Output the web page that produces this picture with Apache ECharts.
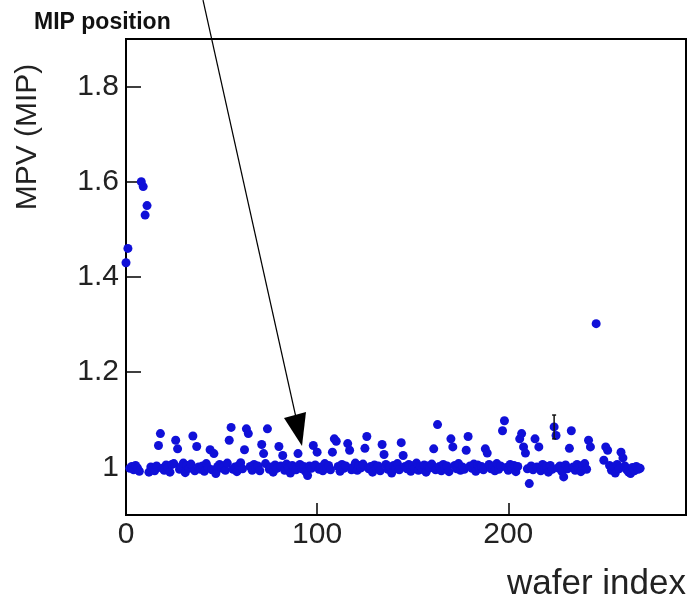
<!DOCTYPE html>
<html>
<head>
<meta charset="utf-8">
<script src="https://cdn.jsdelivr.net/npm/echarts@6/dist/echarts.min.js"></script>
<style>html,body{margin:0;padding:0;background:#fff}#c{width:692px;height:604px}</style>
</head>
<body>
<div id="c"></div>
<script>
// MPV per wafer index (0..269); null = no point visible
var mpv = [
  1.43, 1.46, 0.998, 1.002, 0.995, 1.004, 0.999, 0.992, 1.60, 1.59,
  1.53, 1.55, 0.990, 1.001, 0.996, 0.993, 1.003, 1.046, 1.071, 0.998,
  0.994, 1.005, 1.000, 0.990, 1.006, 1.008, 1.057, 1.039, 0.996, 1.002,
  1.009, 0.989, 1.004, 0.998, 1.007, 1.066, 0.993, 1.044, 1.001, 0.996,
  1.003, 0.992, 1.008, 0.999, 1.037, 0.995, 1.029, 0.987, 1.002, 1.006,
  0.998, 1.003, 0.994, 1.009, 1.057, 1.084, 0.996, 1.001, 0.991, 1.004,
  1.010, 0.997, 1.037, 1.081, 1.071, 1.002, 0.994, 1.006, 0.999, 1.003,
  0.993, 1.048, 1.029, 1.008, 1.081, 0.996, 1.001, 0.990, 1.005, 0.998,
  1.044, 1.003, 1.025, 0.994, 1.007, 0.999, 0.988, 1.004, 1.000, 0.995,
  1.029, 1.006, 0.997, 1.002, 0.991, 0.983, 1.003, 0.998, 1.046, 1.005,
  1.032, 0.996, 1.001, 0.993, 1.008, 0.999, 1.004, 0.995, 1.032, 1.060,
  1.055, 1.002, 0.992, 1.006, 0.998, 1.003, 1.050, 1.036, 0.995, 1.001,
  1.009, 0.994, 1.004, 0.999, 1.007, 1.040, 1.065, 0.997, 1.002, 0.990,
  1.005, 0.998, 1.003, 0.993, 1.048, 1.027, 1.006, 0.996, 1.001, 0.988,
  1.004, 0.999, 1.008, 0.995, 1.052, 1.025, 1.002, 0.997, 1.006, 0.992,
  1.003, 0.998, 1.009, 0.994, 1.001, 0.996, 1.005, 0.990, 1.003, 0.999,
  1.007, 1.039, 0.995, 1.090, 1.002, 0.993, 1.006, 0.998, 1.003, 0.991,
  1.060, 1.043, 1.004, 0.997, 1.008, 0.994, 1.001, 0.996, 1.036, 1.065,
  1.003, 0.998, 1.007, 0.992, 1.005, 0.999, 1.002, 0.995, 1.039, 1.030,
  1.006, 0.997, 1.001, 0.993, 1.008, 0.996, 1.003, 1.077, 1.098, 1.000,
  0.994, 1.006, 0.998, 1.004, 0.991, 1.002, 1.060, 1.071, 1.043, 1.030,
  0.997, 0.966, 1.003, 0.995, 1.060, 1.001, 1.043, 0.993, 1.006, 0.998,
  1.002, 0.990, 1.004, 0.996, 1.085, 1.067, 0.999, 1.003, 0.992, 0.980,
  1.005, 0.997, 1.040, 1.077, 1.001, 0.994, 1.006, 0.998, 0.991, 1.004,
  1.008, 0.996, 1.057, 1.043, null, null, 1.302, null, null, null,
  1.015, 1.043, 1.036, 1.004, 0.994, 1.001, 0.988, 1.006, 0.997, 1.032,
  1.020, 1.003, 0.995, 0.990, 0.987, 1.000, 0.993, 1.002, 0.996, 0.998
];
// error bar (only one visible)
var errIndex = [224];
var errLow = [1.060];
var errHigh = [1.110];
var xTicks = [0, 100, 200];
var yTicks = [1.0, 1.2, 1.4, 1.6, 1.8];

var points = [];
for (var i = 0; i < mpv.length; i++) if (mpv[i] !== null) points.push([i, mpv[i]]);
var errData = errIndex.map(function (x, k) { return [x, errLow[k], errHigh[k]]; });

var chart = echarts.init(document.getElementById('c'));
var font = 'Liberation Sans, Arial, sans-serif';
chart.setOption({
  animation: false,
  backgroundColor: '#fff',
  title: {
    text: 'MIP position', left: 29, top: 6,
    textStyle: { fontFamily: font, fontSize: 23, fontWeight: 'bold', color: '#111' }
  },
  grid: { left: 126, right: 6, top: 39, bottom: 89, show: true, borderColor: '#000', borderWidth: 2 },
  xAxis: {
    type: 'value', min: 0, max: 293,
    axisLine: { show: true, lineStyle: { color: '#000', width: 2 } },
    axisTick: { show: true, inside: true, length: 12, customValues: xTicks, lineStyle: { color: '#000', width: 1.5 } },
    axisLabel: { customValues: xTicks, fontFamily: font, fontSize: 30, color: '#222', margin: 5 },
    splitLine: { show: false }
  },
  yAxis: {
    type: 'value', min: 0.9, max: 1.9,
    axisLine: { show: true, lineStyle: { color: '#000', width: 2 } },
    axisTick: { show: true, inside: true, length: 15, customValues: yTicks, lineStyle: { color: '#000', width: 1.5 } },
    axisLabel: { customValues: yTicks, fontFamily: font, fontSize: 30, color: '#222', margin: 7 },
    splitLine: { show: false }
  },
  graphic: [
    { type: 'text', x: 28, y: 137, rotation: Math.PI / 2,
      style: { text: 'MPV (MIP)', fontFamily: font, fontSize: 30, fill: '#222', textAlign: 'center', textVerticalAlign: 'middle' } },
    { type: 'text', x: 686, y: 584,
      style: { text: 'wafer index', fontFamily: font, fontSize: 35, fill: '#222', textAlign: 'right', textVerticalAlign: 'middle' } },
    { type: 'line', z: 100, shape: { x1: 203, y1: 0, x2: 297, y2: 422 }, style: { stroke: '#000', lineWidth: 1.2 } },
    { type: 'polygon', z: 100, shape: { points: [[284, 418], [306, 412], [302, 446]] }, style: { fill: '#000' } }
  ],
  series: [
    {
      type: 'scatter', data: points, symbol: 'circle', symbolSize: 9,
      itemStyle: { color: '#1010d8', opacity: 1 }, z: 3
    },
    {
      type: 'custom', data: errData, z: 4,
      renderItem: function (params, api) {
        var x = api.coord([api.value(0), api.value(1)])[0];
        var lo = api.coord([api.value(0), api.value(1)])[1];
        var hi = api.coord([api.value(0), api.value(2)])[1];
        var st = { stroke: '#111', lineWidth: 1.5 };
        return { type: 'group', children: [
          { type: 'line', shape: { x1: x, y1: lo, x2: x, y2: hi }, style: st },
          { type: 'line', shape: { x1: x - 2, y1: lo, x2: x + 2, y2: lo }, style: st },
          { type: 'line', shape: { x1: x - 2, y1: hi, x2: x + 2, y2: hi }, style: st }
        ] };
      }
    }
  ]
});
</script>
</body>
</html>
